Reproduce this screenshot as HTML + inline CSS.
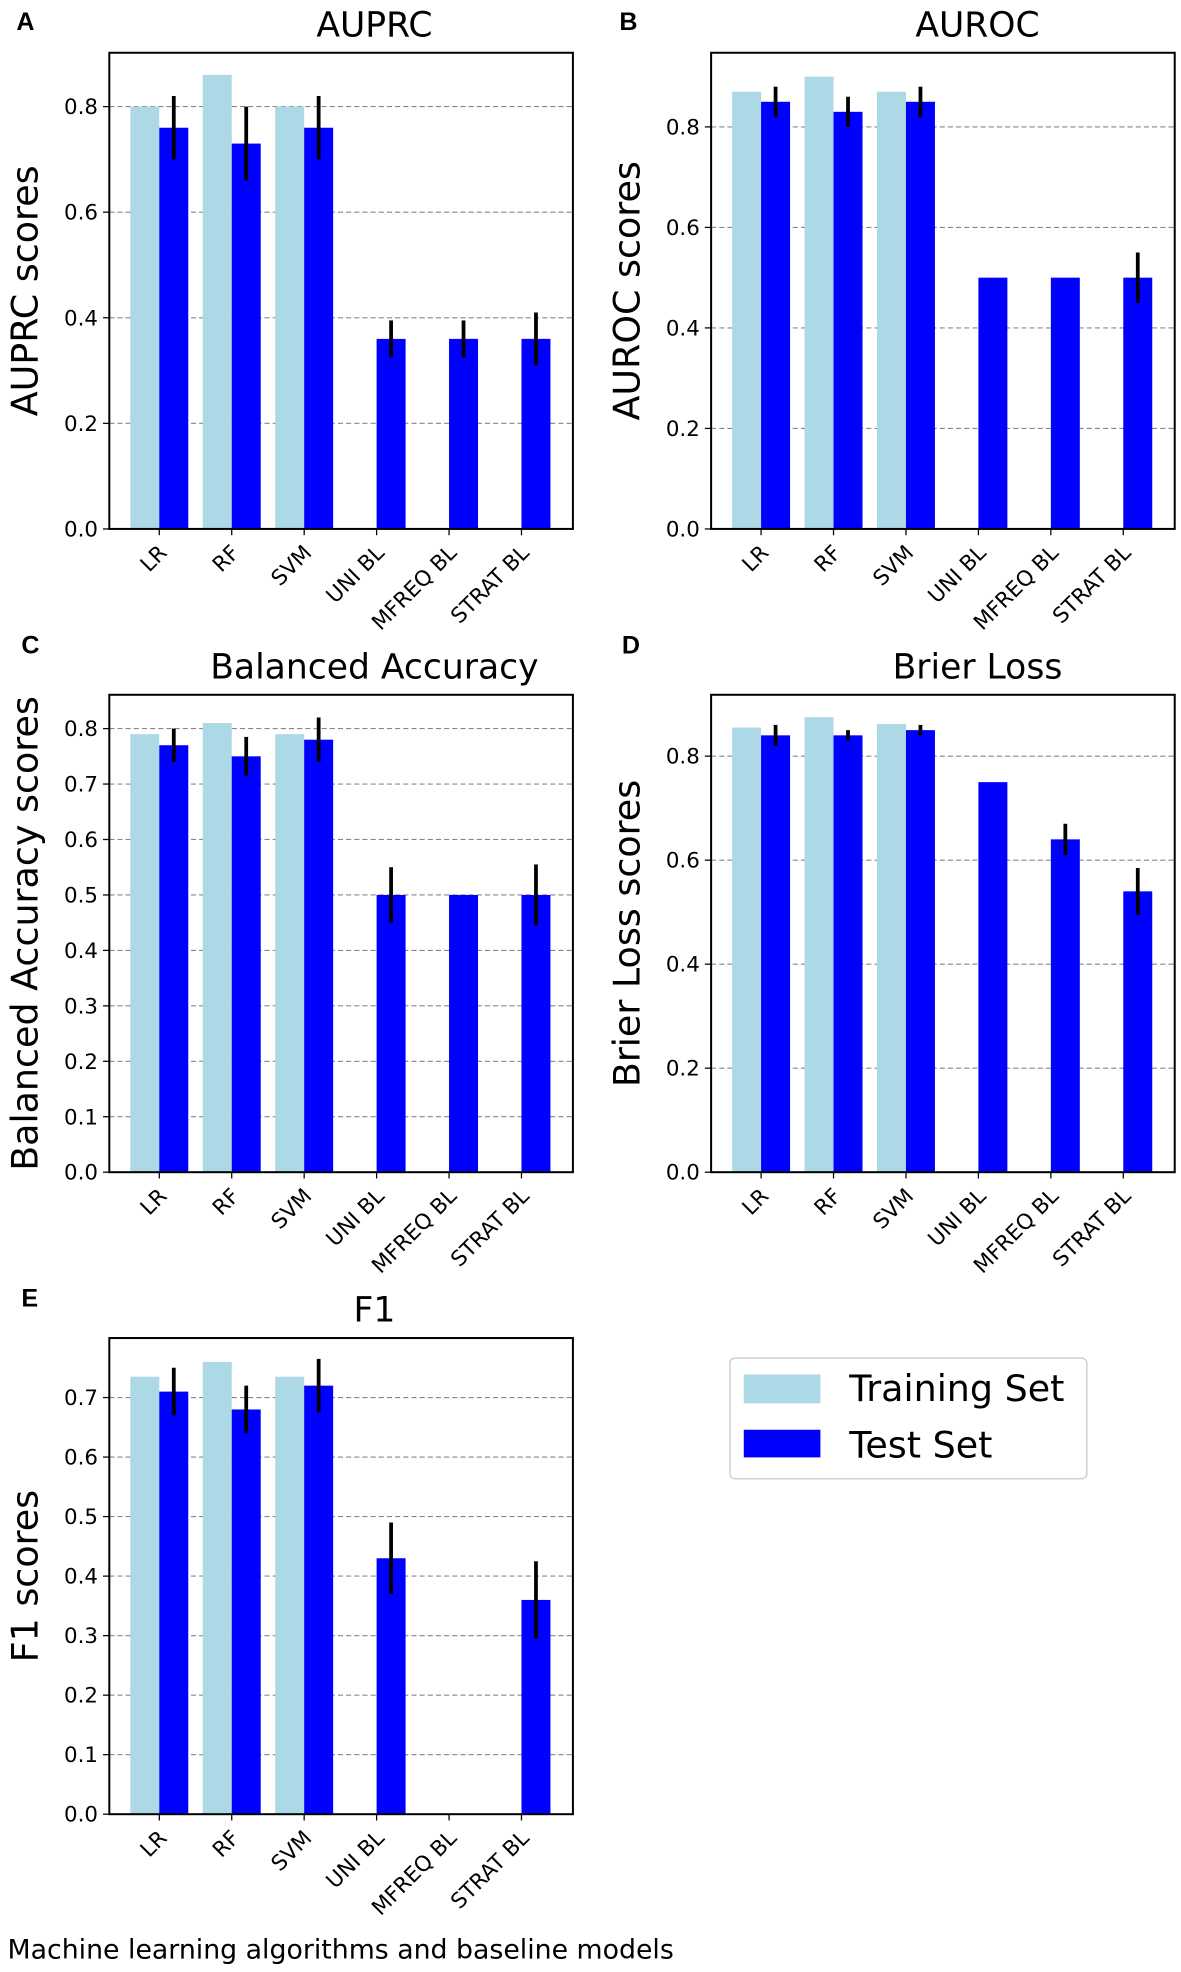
<!DOCTYPE html>
<html><head><meta charset="utf-8"><style>
html,body{margin:0;padding:0;background:#fff;}
svg{display:block;font-family:"DejaVu Sans","Liberation Sans",sans-serif;}
</style></head><body>
<svg id="fig" width="1181" height="1972" viewBox="0 0 940 1569.6" xmlns="http://www.w3.org/2000/svg"></svg>
<script>
const categories = ["LR","RF","SVM","UNI BL","MFREQ BL","STRAT BL"];
const aTrain = [0.80,0.86,0.80,null,null,null];
const aTest  = [0.76,0.73,0.76,0.36,0.36,0.36];
const aErr   = [0.06,0.07,0.06,0.035,0.035,0.05];
const bTrain = [0.87,0.90,0.87,null,null,null];
const bTest  = [0.85,0.83,0.85,0.50,0.50,0.50];
const bErr   = [0.03,0.03,0.03,0,0,0.05];
const cTrain = [0.79,0.81,0.79,null,null,null];
const cTest  = [0.77,0.75,0.78,0.50,0.50,0.50];
const cErr   = [0.03,0.035,0.04,0.05,0,0.055];
const dTrain = [0.855,0.875,0.862,null,null,null];
const dTest  = [0.84,0.84,0.85,0.75,0.64,0.54];
const dErr   = [0.02,0.01,0.01,0,0.03,0.045];
const eTrain = [0.735,0.76,0.735,null,null,null];
const eTest  = [0.71,0.68,0.72,0.43,0,0.36];
const eErr   = [0.04,0.04,0.045,0.06,0,0.065];
const ticksA = ["0.0","0.2","0.4","0.6","0.8"];
const ticksC = ["0.0","0.1","0.2","0.3","0.4","0.5","0.6","0.7","0.8"];
const ticksE = ["0.0","0.1","0.2","0.3","0.4","0.5","0.6","0.7"];

const NS="http://www.w3.org/2000/svg";
const svg=document.getElementById('fig');
function el(tag,attrs,parent){const e=document.createElementNS(NS,tag);for(const k in attrs)e.setAttribute(k,attrs[k]);(parent||svg).appendChild(e);return e;}

const panels=[
 {letter:"A",title:"AUPRC",ylab:"AUPRC scores",L:87,R:456,T:42,B:421,ymax:0.902,ticks:ticksA,tr:aTrain,te:aTest,er:aErr,lx:13,ly:24,tx:298},
 {letter:"B",title:"AUROC",ylab:"AUROC scores",L:566,R:935,T:42,B:421,ymax:0.9475,ticks:ticksA,tr:bTrain,te:bTest,er:bErr,lx:493,ly:24,tx:778},
 {letter:"C",title:"Balanced Accuracy",ylab:"Balanced Accuracy scores",L:87,R:456,T:553,B:933,ymax:0.861,ticks:ticksC,tr:cTrain,te:cTest,er:cErr,lx:17,ly:520,tx:298},
 {letter:"D",title:"Brier Loss",ylab:"Brier Loss scores",L:566,R:935,T:553,B:933,ymax:0.918,ticks:ticksA,tr:dTrain,te:dTest,er:dErr,lx:495,ly:520,tx:778},
 {letter:"E",title:"F1",ylab:"F1 scores",L:87,R:456,T:1065,B:1444,ymax:0.80,ticks:ticksE,tr:eTrain,te:eTest,er:eErr,lx:17,ly:1040,tx:298}
];

panels.forEach(p=>{
  const g=el('g',{});
  
  
  const y=v=>p.B-(v/p.ymax)*(p.B-p.T);
  const step=(p.R-p.L)/6.4;
  const x=i=>p.L+step*(i+0.69);
  const bw=step*0.4;
  p.ticks.forEach(t=>{
    const v=parseFloat(t), yy=y(v);
    if(v>0){const gl=el('line',{x1:p.L,x2:p.R,y1:yy,y2:yy,stroke:'#888','stroke-width':0.9,'stroke-dasharray':'4,2.5'},g);
      }
    el('line',{x1:p.L-5,x2:p.L,y1:yy,y2:yy,stroke:'#000','stroke-width':1},g);
    const tl=el('text',{x:p.L-9,y:yy+6,'text-anchor':'end','font-size':17,fill:'#000'},g);
    tl.textContent=t;
    
  });
  categories.forEach((c,i)=>{
    if(p.tr[i]!=null){const r=el('rect',{x:x(i)-bw,y:y(p.tr[i]),width:bw,height:p.B-y(p.tr[i]),fill:'#add8e6'},g);
      }
    if(p.te[i]>0){const r=el('rect',{x:x(i),y:y(p.te[i]),width:bw,height:p.B-y(p.te[i]),fill:'#0000ff'},g);
      }
    if(p.er[i]>0){const e=el('line',{x1:x(i)+bw/2,x2:x(i)+bw/2,y1:y(p.te[i]-p.er[i]),y2:y(p.te[i]+p.er[i]),stroke:'#000','stroke-width':3},g);
      }
    el('line',{x1:x(i),x2:x(i),y1:p.B,y2:p.B+5,stroke:'#000','stroke-width':1},g);
    const xl=el('text',{x:0,y:0,'text-anchor':'end','font-size':17,fill:'#000',transform:`translate(${x(i)+7},${p.B+20}) rotate(-45)`},g);
    xl.textContent=c;
    
  });
  const fr=el('rect',{x:p.L,y:p.T,width:p.R-p.L,height:p.B-p.T,fill:'none',stroke:'#000','stroke-width':1.6},g);
  
  const ti=el('text',{x:p.tx,y:p.T-13,'text-anchor':'middle','font-size':27.5,fill:'#000'},g);
  ti.textContent=p.title;
  const yl=el('text',{x:0,y:0,'text-anchor':'middle','font-size':29,fill:'#000',transform:`translate(${p.L-57},${(p.T+p.B)/2}) rotate(-90)`},g);
  yl.textContent=p.ylab;
  const lt=el('text',{x:p.lx,y:p.ly,'font-size':20,'font-weight':'bold',fill:'#000','font-family':'Liberation Sans, sans-serif'},g);
  lt.textContent=p.letter;
});

const lg=el('g',{});


el('rect',{x:581,y:1081,width:284,height:96,rx:4,fill:'#fff',stroke:'#d0d0d0','stroke-width':1.2},lg);
el('rect',{x:592,y:1094,width:61,height:23,fill:'#add8e6'},lg);
el('rect',{x:592,y:1138,width:61,height:22,fill:'#0000ff'},lg);
const t1=el('text',{x:676,y:1115,'font-size':29,fill:'#000'},lg);t1.textContent='Training Set';

const t2=el('text',{x:676,y:1160,'font-size':29,fill:'#000'},lg);t2.textContent='Test Set';


const xt=el('text',{x:6,y:1559,'font-size':21.3,fill:'#000'});
xt.textContent='Machine learning algorithms and baseline models';


</script>
</body></html>
